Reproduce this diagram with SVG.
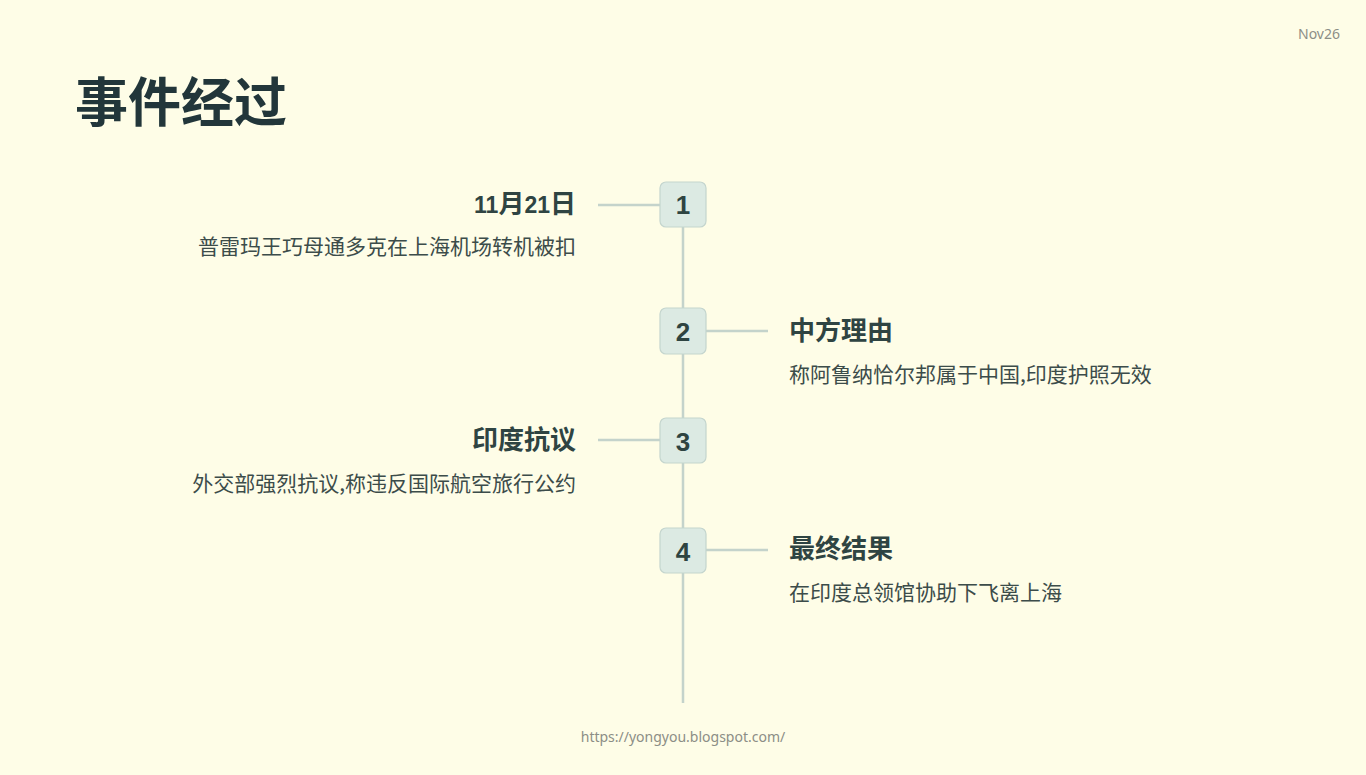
<svg xmlns="http://www.w3.org/2000/svg" width="1366" height="775" viewBox="0 0 1366 775">
<style>
.bg{fill:#FEFDE7}
.box{fill:#DCEAE3;stroke:#C4D5CE;stroke-width:1.2}
.num{font-family:"Liberation Sans","Noto Sans",sans-serif;font-weight:bold;font-size:26px;fill:#2E4441;text-anchor:middle}
.h{font-family:"Noto Sans CJK SC","Noto Sans",sans-serif;font-weight:bold;font-size:26px;fill:#2F4442}
.d{font-family:"Noto Sans CJK SC","Noto Sans",sans-serif;font-size:21px;fill:#3C4C4A}
.r{text-anchor:end}
.ln{stroke:#C4D3CB;stroke-width:2.5;fill:none}
.small{font-family:"Noto Sans","Liberation Sans",sans-serif;font-size:14px;fill:#8C8E86}
</style>
<rect class="bg" x="0" y="0" width="1366" height="775"/>
<text x="1340" y="39" class="small" text-anchor="end">Nov26</text>
<text x="75" y="122" font-family="Noto Sans CJK SC, sans-serif" font-weight="bold" font-size="53" fill="#22363A">事件经过</text>
<g id="connectors">
<line class="ln" x1="683" y1="227" x2="683" y2="703"/>
<line class="ln" x1="598" y1="205" x2="660" y2="205"/>
<line class="ln" x1="706" y1="331" x2="768" y2="331"/>
<line class="ln" x1="598" y1="440" x2="660" y2="440"/>
<line class="ln" x1="706" y1="550" x2="768" y2="550"/>
</g>
<g id="node1">
<rect class="box" x="660" y="182" width="46" height="45" rx="6"/>
<text class="num" x="683" y="214">1</text>
<text class="h r" x="576" y="213"><tspan font-family="Liberation Sans, sans-serif" font-size="23">11</tspan>月<tspan font-family="Liberation Sans, sans-serif" font-size="23">21</tspan>日</text>
<text class="d r" x="576" y="254">普雷玛王巧母通多克在上海机场转机被扣</text>
</g>
<g id="node2">
<rect class="box" x="660" y="308" width="46" height="46" rx="6"/>
<text class="num" x="683" y="341">2</text>
<text class="h" x="789" y="340">中方理由</text>
<text class="d" x="789" y="382">称阿鲁纳恰尔邦属于中国,印度护照无效</text>
</g>
<g id="node3">
<rect class="box" x="660" y="418" width="46" height="45" rx="6"/>
<text class="num" x="683" y="451">3</text>
<text class="h r" x="576" y="449">印度抗议</text>
<text class="d r" x="576" y="491">外交部强烈抗议,称违反国际航空旅行公约</text>
</g>
<g id="node4">
<rect class="box" x="660" y="528" width="46" height="45" rx="6"/>
<text class="num" x="683" y="561">4</text>
<text class="h" x="789" y="558">最终结果</text>
<text class="d" x="789" y="600">在印度总领馆协助下飞离上海</text>
</g>
<text x="683" y="742" class="small" text-anchor="middle">https://yongyou.blogspot.com/</text>
</svg>
